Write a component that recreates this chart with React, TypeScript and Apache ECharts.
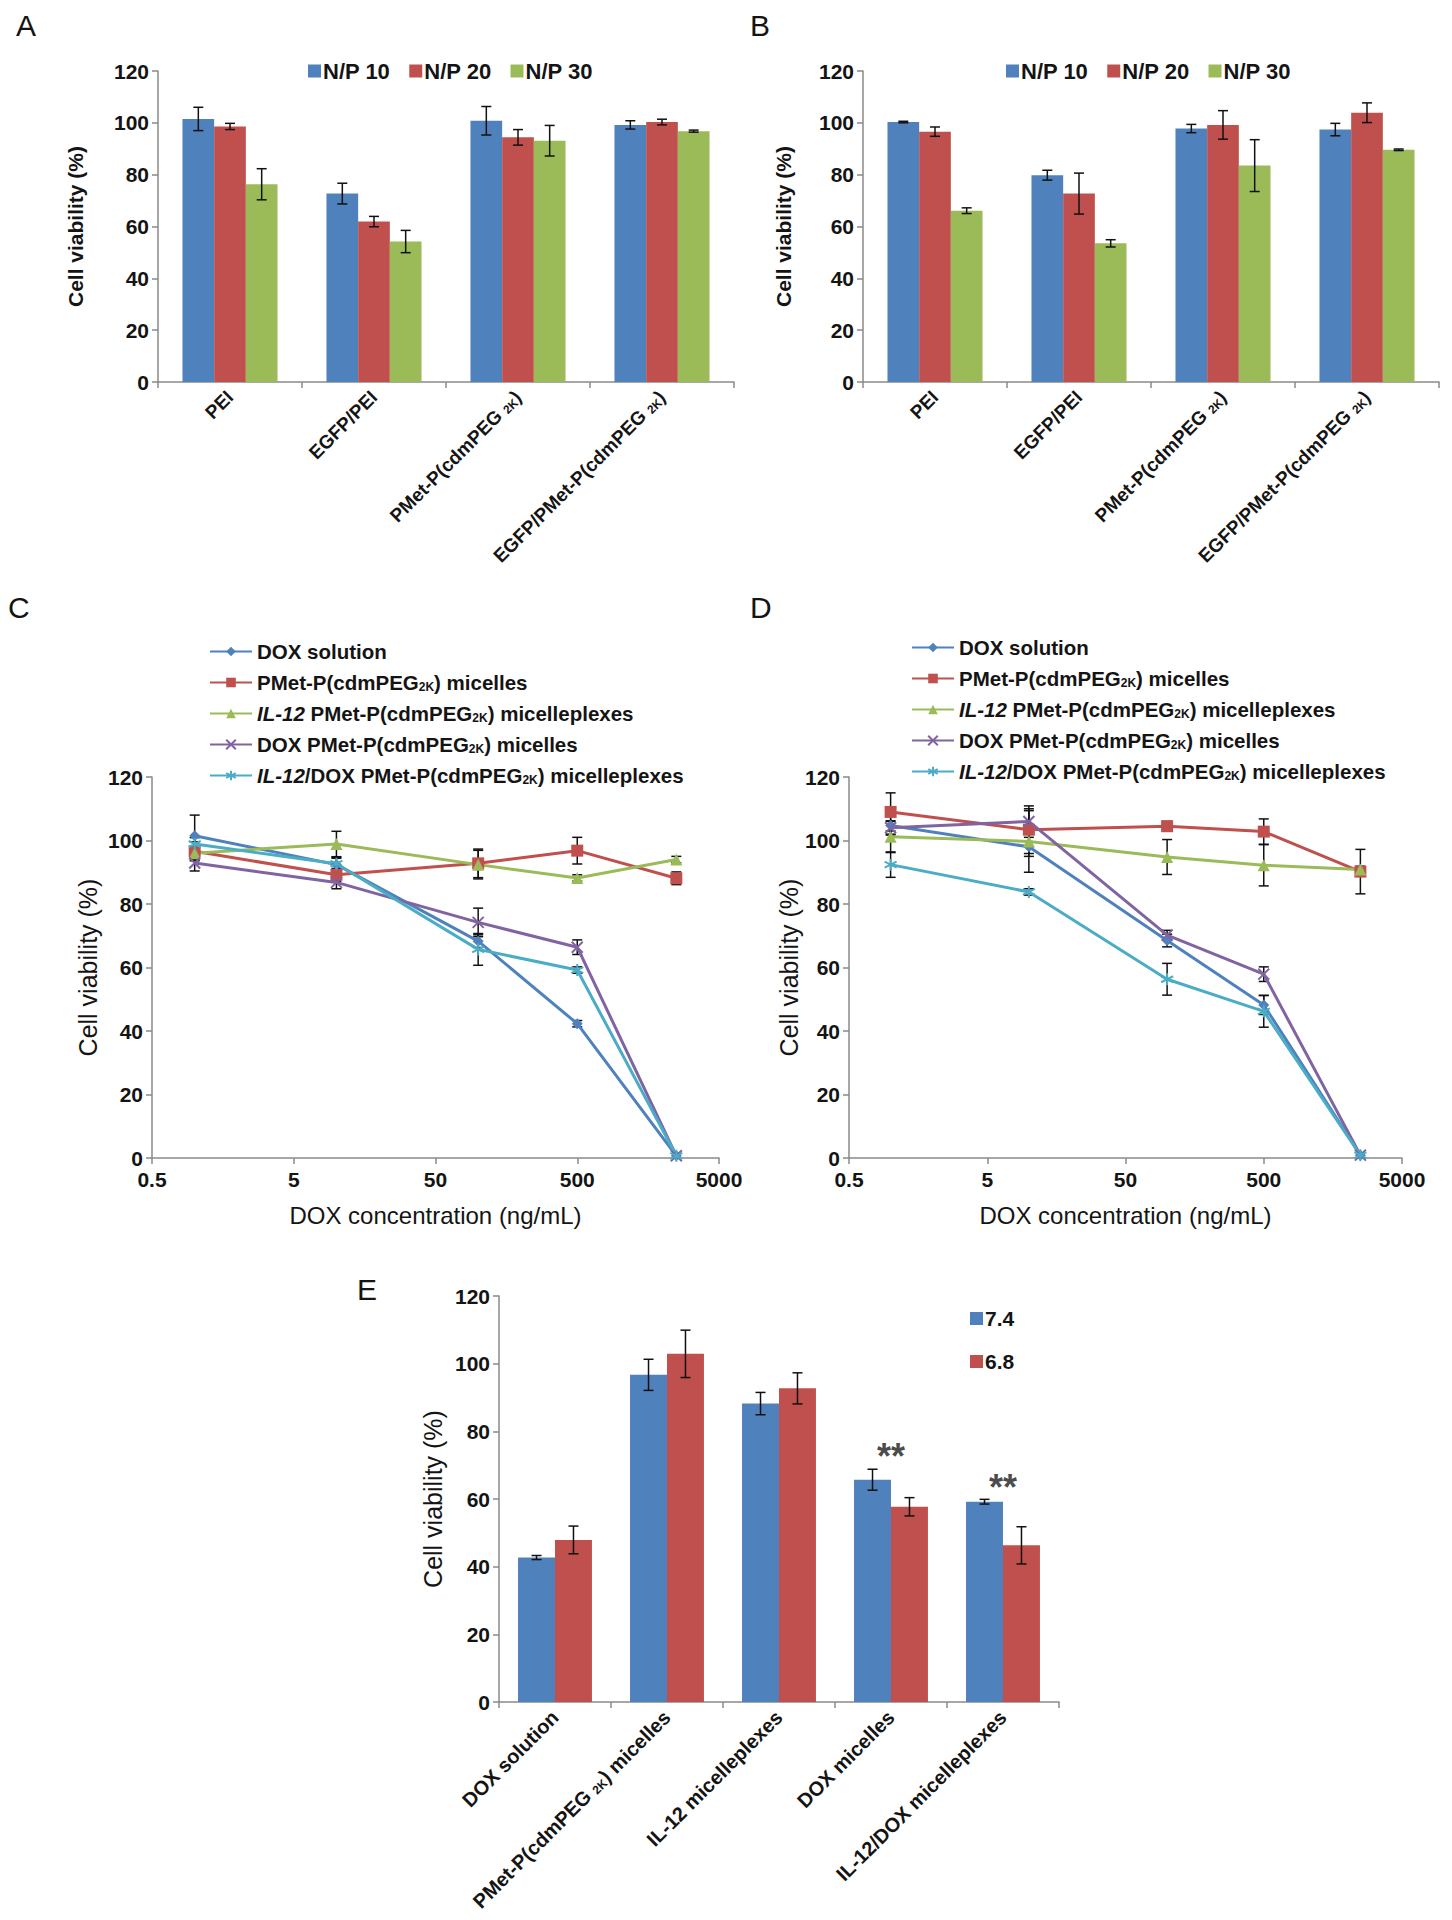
import React, { useEffect, useRef } from 'react';
import * as echarts from 'echarts';

const FONT = "'Liberation Sans', Arial, Helvetica, sans-serif";

// ---------- Panel A / B (bar charts) ----------
const barCats = ['PEI', 'EGFP/PEI', 'PMet-P(cdmPEG2K)', 'EGFP/PMet-P(cdmPEG2K)'];
const npNames = ['N/P 10', 'N/P 20', 'N/P 30'];

const aNP10 = [101.5, 72.7, 100.8, 99.2];
const aNP10Err = [4.5, 4.0, 5.5, 1.6];
const aNP20 = [98.6, 61.9, 94.4, 100.3];
const aNP20Err = [1.2, 2.0, 3.0, 1.1];
const aNP30 = [76.3, 54.2, 93.1, 96.8];
const aNP30Err = [6.0, 4.3, 5.9, 0.4];

const bNP10 = [100.3, 79.8, 97.8, 97.4];
const bNP10Err = [0.3, 1.9, 1.6, 2.4];
const bNP20 = [96.6, 72.7, 99.2, 103.9];
const bNP20Err = [1.8, 7.9, 5.5, 3.8];
const bNP30 = [66.1, 53.5, 83.5, 89.6];
const bNP30Err = [1.1, 1.4, 10.0, 0.3];

// ---------- Panel C / D (dose response) ----------
const doxConc = [1, 10, 100, 500, 2500];
const xTickLabels = ['0.5', '5', '50', '500', '5000'];
const lineNames = [
  'DOX solution',
  'PMet-P(cdmPEG2K) micelles',
  'IL-12 PMet-P(cdmPEG2K) micelleplexes',
  'DOX PMet-P(cdmPEG2K) micelles',
  'IL-12/DOX PMet-P(cdmPEG2K) micelleplexes',
];

const cDoxSol = [101.5, 92.4, 68.3, 42.3, 0.7];
const cDoxSolErr = [6.5, 2.0, 2.0, 1.0, 0];
const cMic = [96.6, 89.2, 92.8, 96.8, 88.1];
const cMicErr = [3.0, 2.0, 4.5, 4.2, 2.0];
const cIl12 = [96.0, 98.9, 92.4, 88.2, 94.0];
const cIl12Err = [2.0, 4.0, 4.5, 1.0, 1.0];
const cDoxMic = [92.9, 86.8, 74.2, 66.4, 0.7];
const cDoxMicErr = [2.5, 2.0, 4.5, 2.3, 0];
const cIl12Dox = [98.9, 92.7, 65.7, 59.2, 0.7];
const cIl12DoxErr = [2.0, 2.0, 5.0, 1.0, 0];

const dDoxSol = [104.7, 98.0, 68.5, 48.2, 0.9];
const dDoxSolErr = [3.0, 3.0, 2.0, 3.0, 0];
const dMic = [109.0, 103.4, 104.5, 102.8, 90.2];
const dMicErr = [6.0, 7.5, 1.5, 4.0, 7.0];
const dIl12 = [101.2, 99.7, 94.8, 92.2, 90.9];
const dIl12Err = [5.0, 9.7, 5.5, 6.5, 1.0];
const dDoxMic = [104.0, 106.0, 70.2, 57.9, 0.9];
const dDoxMicErr = [2.0, 4.0, 1.5, 2.3, 0];
const dIl12Dox = [92.4, 83.8, 56.3, 46.2, 0.9];
const dIl12DoxErr = [4.0, 1.0, 5.0, 5.0, 0];

// ---------- Panel E ----------
const eCats = [
  'DOX solution',
  'PMet-P(cdmPEG2K) micelles',
  'IL-12 micelleplexes',
  'DOX micelles',
  'IL-12/DOX micelleplexes',
];
const phNames = ['7.4', '6.8'];
const ePh74 = [42.7, 96.7, 88.2, 65.7, 59.2];
const ePh74Err = [0.6, 4.6, 3.3, 3.1, 0.7];
const ePh68 = [47.9, 102.9, 92.7, 57.7, 46.3];
const ePh68Err = [4.1, 7.0, 4.6, 2.7, 5.5];
const sigCatIdx = [3, 4];
const sigY = [75.5, 66.3];
const sigText = ['**', '**'];

const BLUE = '#4F81BD';
const RED = '#C0504D';
const GREEN = '#9BBB59';
const PURPLE = '#8064A2';
const CYAN = '#4BACC6';
const AXIS = '#8a8a8a';
const TXT = '#141414';

const lineColors = [BLUE, RED, GREEN, PURPLE, CYAN];
const lineSymbols = [
  'diamond',
  'rect',
  'triangle',
  'path://M0,0L10,10M10,0L0,10',
  'path://M5,0L5,10M0.7,2.5L9.3,7.5M0.7,7.5L9.3,2.5',
];
const lineSymbolSizes = [11, 12, 12, 11, 12];

function errShape(cx: number, yTop: number, yBot: number, cap = 5) {
  const st = { stroke: '#111', lineWidth: 1.5 };
  return {
    type: 'group',
    children: [
      { type: 'line', shape: { x1: cx, y1: yTop, x2: cx, y2: yBot }, style: st },
      { type: 'line', shape: { x1: cx - cap, y1: yTop, x2: cx + cap, y2: yTop }, style: st },
      { type: 'line', shape: { x1: cx - cap, y1: yBot, x2: cx + cap, y2: yBot }, style: st },
    ],
  };
}

function barErr(axis: number, vals: number[], errs: number[], k: number, n: number, gap: number) {
  return {
    type: 'custom',
    xAxisIndex: axis,
    yAxisIndex: axis,
    z: 10,
    silent: true,
    clip: false,
    data: vals.map((v, i) => [i, v, errs[i]]),
    encode: { x: 0, y: 1 },
    renderItem: (_p: any, api: any) => {
      const i = api.value(0);
      const v = api.value(1);
      const e = api.value(2);
      const band = api.size([1, 0])[0];
      const gw = band * (1 - gap);
      const bw = gw / n;
      const cx = api.coord([i, v])[0] - gw / 2 + bw * (k + 0.5);
      return errShape(cx, api.coord([i, v + e])[1], api.coord([i, v - e])[1], 5);
    },
  };
}

const logX = (c: number) => Math.log10(c / 0.5);

function lineErr(axis: number, vals: number[], errs: number[]) {
  return {
    type: 'custom',
    xAxisIndex: axis,
    yAxisIndex: axis,
    z: 1,
    silent: true,
    clip: false,
    data: vals.map((v, i) => [logX(doxConc[i]), v, errs[i]]),
    encode: { x: 0, y: 1 },
    renderItem: (_p: any, api: any) => {
      const x = api.value(0);
      const v = api.value(1);
      const e = api.value(2);
      if (!e) return { type: 'group', children: [] };
      const t = api.coord([x, v + e]);
      const b = api.coord([x, v - e]);
      return errShape(t[0], t[1], b[1], 5);
    },
  };
}

function barSeries(axis: number, names: string[], vals: number[][], colors: string[], gap: string) {
  return names.map((nm, k) => ({
    type: 'bar',
    name: nm,
    xAxisIndex: axis,
    yAxisIndex: axis,
    data: vals[k],
    barGap: '0%',
    barCategoryGap: gap,
    itemStyle: { color: colors[k] },
  }));
}

function lineSeries(axis: number, vals: number[][]) {
  return lineNames.map((nm, k) => ({
    type: 'line',
    name: nm,
    xAxisIndex: axis,
    yAxisIndex: axis,
    data: vals[k].map((v, i) => [logX(doxConc[i]), v]),
    symbol: lineSymbols[k],
    symbolSize: lineSymbolSizes[k],
    z: 3,
    lineStyle: { color: lineColors[k], width: 3 },
    itemStyle: {
      color: lineColors[k],
      borderColor: lineColors[k],
      borderWidth: k >= 3 ? 2 : 0,
    },
  }));
}

const subRich = {
  sub: { fontSize: 12, fontWeight: 'bold', fontFamily: FONT, color: TXT, verticalAlign: 'bottom' },
};

function yAxisDef(gridIndex: number, nameGap: number, nameWeight: string, nameSize: number) {
  return {
    type: 'value',
    gridIndex,
    min: 0,
    max: 120,
    interval: 20,
    name: 'Cell viability (%)',
    nameLocation: 'middle',
    nameGap,
    nameTextStyle: { fontSize: nameSize, fontWeight: nameWeight, fontFamily: FONT, color: TXT },
    axisLine: { show: true, lineStyle: { color: AXIS, width: 1.5 } },
    axisTick: { show: true, length: 6, lineStyle: { color: AXIS, width: 1.5 } },
    splitLine: { show: false },
    axisLabel: { fontSize: 21, fontWeight: 'bold', fontFamily: FONT, color: TXT, margin: 9 },
  };
}

function catAxisDef(gridIndex: number, data: string[], fontSize: number) {
  return {
    type: 'category',
    gridIndex,
    data,
    axisLine: { show: true, lineStyle: { color: AXIS, width: 1.5 } },
    axisTick: { show: true, length: 6, interval: 0, lineStyle: { color: AXIS, width: 1.5 } },
    axisLabel: {
      interval: 0,
      rotate: 45,
      margin: 12,
      fontSize,
      fontWeight: 'bold',
      fontFamily: FONT,
      color: TXT,
      formatter: (v: string) => v.replace('PEG2K', 'PEG {sub|2K}'),
      rich: subRich,
    },
  };
}

function logAxisDef(gridIndex: number) {
  return {
    type: 'value',
    gridIndex,
    min: 0,
    max: 4,
    interval: 1,
    name: 'DOX concentration (ng/mL)',
    nameLocation: 'middle',
    nameGap: 45,
    nameTextStyle: { fontSize: 24, fontFamily: FONT, color: TXT },
    axisLine: { show: true, lineStyle: { color: AXIS, width: 1.5 } },
    axisTick: { show: true, length: 6, lineStyle: { color: AXIS, width: 1.5 } },
    splitLine: { show: false },
    axisLabel: {
      fontSize: 21,
      fontWeight: 'bold',
      fontFamily: FONT,
      color: TXT,
      margin: 11,
      formatter: (v: number) => xTickLabels[Math.round(v)] ?? '',
    },
  };
}

function lineLegend(left: number, top: number) {
  return {
    left,
    top,
    orient: 'vertical',
    itemWidth: 42,
    itemHeight: 12,
    itemGap: 10,
    data: lineNames,
    formatter: (n: string) => n.replace(/^IL-12/, '{it|IL-12}').replace('PEG2K', 'PEG{sub|2K}'),
    textStyle: {
      fontSize: 20.5,
      fontWeight: 'bold',
      fontFamily: FONT,
      color: TXT,
      rich: {
        it: { fontSize: 20.5, fontWeight: 'bold', fontStyle: 'italic', fontFamily: FONT, color: TXT },
        sub: { fontSize: 12, fontWeight: 'bold', fontFamily: FONT, color: TXT, verticalAlign: 'bottom' },
      },
    },
  };
}

function barLegend(left: number, top: number, names: string[], orient: string, gap: number, size: number) {
  return {
    left,
    top,
    orient,
    itemWidth: 13,
    itemHeight: 13,
    itemGap: gap,
    icon: 'rect',
    data: names,
    textStyle: { fontSize: size, fontWeight: 'bold', fontFamily: FONT, color: TXT, padding: [0, 0, 0, -3] },
  };
}

const panelLetter = (t: string, left: number, top: number) => ({
  type: 'text',
  left,
  top,
  style: { text: t, fontSize: 30, fontFamily: FONT, fill: TXT },
});

export default function App() {
  const ref = useRef<HTMLDivElement>(null);
  useEffect(() => {
    if (!ref.current) return;
    const chart = echarts.init(ref.current, undefined, { renderer: 'svg' });
    const barColors = [BLUE, RED, GREEN];
    const option: any = {
      animation: false,
      backgroundColor: '#ffffff',
      textStyle: { fontFamily: FONT },
      grid: [
        { left: 158, top: 71, width: 576, height: 311 },
        { left: 863, top: 71, width: 576, height: 311 },
        { left: 152, top: 777, width: 567, height: 381 },
        { left: 849, top: 777, width: 553, height: 381 },
        { left: 499, top: 1296, width: 560, height: 406 },
      ],
      xAxis: [
        catAxisDef(0, barCats, 19),
        catAxisDef(1, barCats, 19),
        logAxisDef(2),
        logAxisDef(3),
        catAxisDef(4, eCats, 20),
      ],
      yAxis: [
        yAxisDef(0, 72, 'bold', 21),
        yAxisDef(1, 69, 'bold', 21),
        yAxisDef(2, 52, 'normal', 25),
        yAxisDef(3, 46, 'normal', 25),
        yAxisDef(4, 54, 'normal', 25),
      ],
      legend: [
        barLegend(303, 55, npNames, 'horizontal', 19, 22),
        barLegend(1001, 55, npNames, 'horizontal', 19, 22),
        lineLegend(204, 636),
        lineLegend(906, 632),
        barLegend(965, 1303, phNames, 'vertical', 22, 21),
      ],
      graphic: [
        panelLetter('A', 16, 10),
        panelLetter('B', 750, 10),
        panelLetter('C', 8, 592),
        panelLetter('D', 750, 592),
        panelLetter('E', 357, 1274),
      ],
      series: [
        ...barSeries(0, npNames, [aNP10, aNP20, aNP30], barColors, '34%'),
        barErr(0, aNP10, aNP10Err, 0, 3, 0.34),
        barErr(0, aNP20, aNP20Err, 1, 3, 0.34),
        barErr(0, aNP30, aNP30Err, 2, 3, 0.34),
        ...barSeries(1, npNames, [bNP10, bNP20, bNP30], barColors, '34%'),
        barErr(1, bNP10, bNP10Err, 0, 3, 0.34),
        barErr(1, bNP20, bNP20Err, 1, 3, 0.34),
        barErr(1, bNP30, bNP30Err, 2, 3, 0.34),
        lineErr(2, cDoxSol, cDoxSolErr),
        lineErr(2, cMic, cMicErr),
        lineErr(2, cIl12, cIl12Err),
        lineErr(2, cDoxMic, cDoxMicErr),
        lineErr(2, cIl12Dox, cIl12DoxErr),
        ...lineSeries(2, [cDoxSol, cMic, cIl12, cDoxMic, cIl12Dox]),
        lineErr(3, dDoxSol, dDoxSolErr),
        lineErr(3, dMic, dMicErr),
        lineErr(3, dIl12, dIl12Err),
        lineErr(3, dDoxMic, dDoxMicErr),
        lineErr(3, dIl12Dox, dIl12DoxErr),
        ...lineSeries(3, [dDoxSol, dMic, dIl12, dDoxMic, dIl12Dox]),
        ...barSeries(4, phNames, [ePh74, ePh68], [BLUE, RED], '34%'),
        barErr(4, ePh74, ePh74Err, 0, 2, 0.34),
        barErr(4, ePh68, ePh68Err, 1, 2, 0.34),
        {
          type: 'scatter',
          name: 'significance',
          xAxisIndex: 4,
          yAxisIndex: 4,
          data: sigCatIdx.map((c, i) => [c, sigY[i]]),
          symbolSize: 1,
          itemStyle: { color: 'rgba(0,0,0,0)' },
          silent: true,
          label: {
            show: true,
            position: 'inside',
            offset: [0, 10],
            formatter: (p: any) => sigText[p.dataIndex],
            fontSize: 36,
            fontWeight: 'bold',
            fontFamily: FONT,
            color: '#1a1a1a',
          },
        },
      ],
    };
    chart.setOption(option);
    return () => chart.dispose();
  }, []);
  return (
    <div
      ref={ref}
      style={{ position: 'absolute', left: 0, top: 0, width: 1452, height: 1920, background: '#fff' }}
    />
  );
}
